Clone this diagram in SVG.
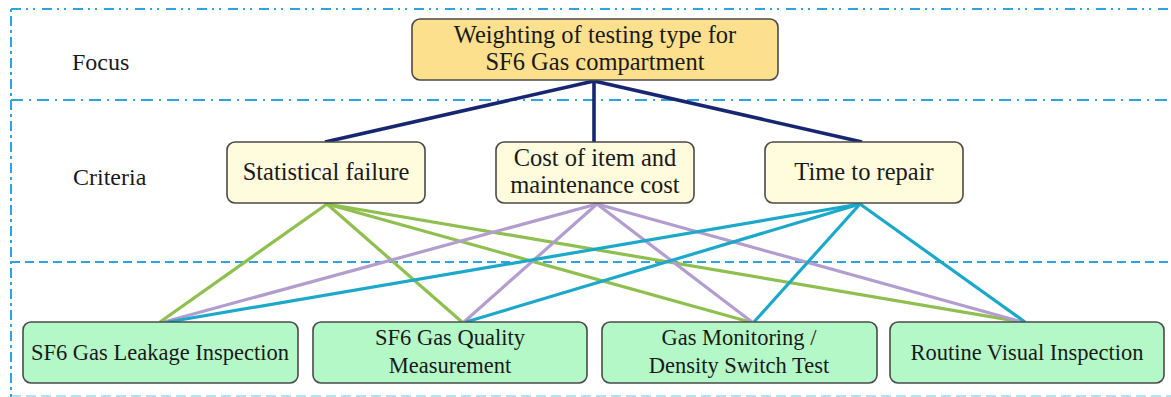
<svg xmlns="http://www.w3.org/2000/svg" width="1171" height="397" viewBox="0 0 1171 397">
<style>
.bg{fill:#ffffff}
.frame{fill:none;stroke:#2ea3df;stroke-width:2}
.f1{stroke-dasharray:10 5 2 5 2 7}
.f2{stroke-dasharray:12 6 2 6}
.f3{stroke-dasharray:9 5}
.f4{stroke-dasharray:3 4 10 4}
.f5{stroke-dasharray:10 5;opacity:0.35}
.box{stroke:#4a4a4a;stroke-width:1.6}
.focus{fill:#fde08e}
.crit{fill:#fffbdc}
.alt{fill:#b5f8c8}
.t{font-family:"Liberation Serif","DejaVu Serif",serif;font-size:24.5px;fill:#1a1a1a;text-anchor:middle}
.ta{font-family:"Liberation Serif","DejaVu Serif",serif;font-size:22.5px;fill:#1a1a1a;text-anchor:middle}
.lbl{font-family:"Liberation Serif","DejaVu Serif",serif;font-size:24px;fill:#1a1a1a}
.navy{stroke:#172670;stroke-width:3.6;fill:none}
.g{stroke:#8fbf4f;stroke-width:3.2;fill:none}
.p{stroke:#b39dcf;stroke-width:3.2;fill:none}
.c{stroke:#1ca9c9;stroke-width:3.2;fill:none}
</style>
<rect class="bg" x="0" y="0" width="1171" height="397"/>
<g id="frame">
<line class="frame f1" x1="11" y1="9" x2="1171" y2="9"/>
<line class="frame f2" x1="11" y1="100" x2="1171" y2="100"/>
<line class="frame f3" x1="11" y1="262" x2="1171" y2="262"/>
<line class="frame f5" x1="11" y1="396" x2="1171" y2="396"/>
<line class="frame f4" x1="11" y1="9" x2="11" y2="397"/>
</g>
<g id="connectors">
<line class="navy" x1="594" y1="81" x2="325" y2="142"/>
<line class="navy" x1="594" y1="81" x2="594" y2="142"/>
<line class="navy" x1="594" y1="81" x2="862" y2="142"/>
<line class="g" x1="327" y1="204" x2="160" y2="322"/>
<line class="g" x1="327" y1="204" x2="462" y2="322"/>
<line class="g" x1="327" y1="204" x2="750" y2="322"/>
<line class="g" x1="327" y1="204" x2="1022" y2="322"/>
<line class="p" x1="597" y1="204" x2="164" y2="322"/>
<line class="p" x1="597" y1="204" x2="464" y2="322"/>
<line class="p" x1="597" y1="204" x2="752" y2="322"/>
<line class="p" x1="597" y1="204" x2="1022" y2="322"/>
<line class="c" x1="860" y1="204" x2="168" y2="322"/>
<line class="c" x1="860" y1="204" x2="466" y2="322"/>
<line class="c" x1="860" y1="204" x2="754" y2="322"/>
<line class="c" x1="860" y1="204" x2="1025" y2="322"/>
</g>
<g id="label-focus"><text class="lbl" x="72" y="70">Focus</text></g>
<g id="label-criteria"><text class="lbl" x="73" y="185">Criteria</text></g>
<g id="focus">
<rect class="box focus" x="412" y="19" width="366" height="61" rx="8"/>
<text class="t" x="595" y="43">Weighting of testing type for</text>
<text class="t" x="595" y="70">SF6 Gas compartment</text>
</g>
<g id="crit-stat">
<rect class="box crit" x="227" y="142" width="198" height="61" rx="8"/>
<text class="t" x="326" y="180">Statistical failure</text>
</g>
<g id="crit-cost">
<rect class="box crit" x="496" y="142" width="198" height="61" rx="8"/>
<text class="t" x="595" y="166">Cost of item and</text>
<text class="t" x="595" y="193">maintenance cost</text>
</g>
<g id="crit-time">
<rect class="box crit" x="765" y="142" width="198" height="61" rx="8"/>
<text class="t" x="864" y="180">Time to repair</text>
</g>
<g id="alt-leak">
<rect class="box alt" x="23" y="322" width="275" height="61" rx="8"/>
<text class="ta" x="160" y="360">SF6 Gas Leakage Inspection</text>
</g>
<g id="alt-quality">
<rect class="box alt" x="313" y="322" width="274" height="61" rx="8"/>
<text class="ta" x="450" y="345">SF6 Gas Quality</text>
<text class="ta" x="450" y="373">Measurement</text>
</g>
<g id="alt-monitor">
<rect class="box alt" x="602" y="322" width="275" height="61" rx="8"/>
<text class="ta" x="739" y="345">Gas Monitoring /</text>
<text class="ta" x="739" y="373">Density Switch Test</text>
</g>
<g id="alt-visual">
<rect class="box alt" x="890" y="322" width="274" height="61" rx="8"/>
<text class="ta" x="1027" y="360">Routine Visual Inspection</text>
</g>
</svg>
